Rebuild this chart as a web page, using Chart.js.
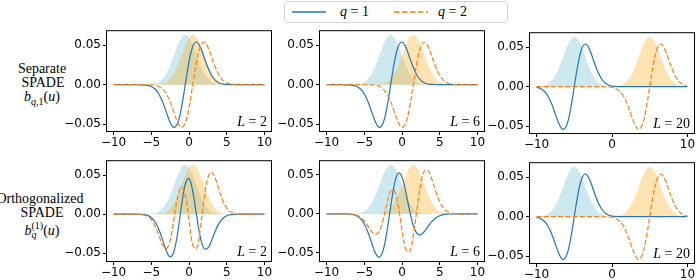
<!DOCTYPE html>
<html>
<head>
<meta charset="utf-8">
<script src="https://cdn.jsdelivr.net/npm/chart.js@4.4.0/dist/chart.umd.min.js"></script>
<style>
  body { margin: 0; width: 696px; height: 280px; position: relative; overflow: hidden; background: #fff; }
  canvas { position: absolute; }
  .m { position: absolute; font-family: "Liberation Serif", serif; font-size: 14px; line-height: 14px; white-space: nowrap; color: #000; }
  .c { transform: translateX(-50%); }
  .ss { display: inline-block; vertical-align: -3px; font-size: 10px; line-height: 9px; }
  .ss span { display: block; }
</style>
</head>
<body>

<div style="position:absolute;left:284px;top:1px;width:222px;height:20px;border:1px solid #d4d4d4;border-radius:3px;background:#fff"></div>
<svg style="position:absolute;left:292px;top:6px" width="34" height="12"><line x1="0" y1="6" x2="34" y2="6" stroke="#1f77b4" stroke-width="1.5"/></svg>
<div class="m" style="left:340px;top:5px"><i>q</i> = 1</div>
<svg style="position:absolute;left:394px;top:6px" width="34" height="12"><line x1="0" y1="6" x2="34" y2="6" stroke="#ff7f0e" stroke-width="1.5" stroke-dasharray="5.5,2.5"/></svg>
<div class="m" style="left:438px;top:5px"><i>q</i> = 2</div>

<div class="m c" style="left:42px;top:62px">Separate</div>
<div class="m c" style="left:43px;top:76px">SPADE</div>
<div class="m c" style="left:42px;top:90px"><i>b</i><sub style="font-size:10px"><i>q</i>,1</sub>(<i>u</i>)</div>

<div class="m c" style="left:40px;top:192px">Orthogonalized</div>
<div class="m c" style="left:42px;top:206px">SPADE</div>
<div class="m c" style="left:42px;top:221px"><i>b</i><span class="ss"><span>(1)</span><span><i>q</i></span></span>(<i>u</i>)</div>

<script>
// sample positions u
const X = [-10,-9.5,-9,-8.5,-8,-7.5,-7,-6.5,-6,-5.5,-5,-4.5,-4,-3.5,-3,-2.5,-2,-1.5,-1,-0.5,0,
           0.5,1,1.5,2,2.5,3,3.5,4,4.5,5,5.5,6,6.5,7,7.5,8,8.5,9,9.5,10];

const xTicksWide = [-10, -5, 0, 5, 10];
const xTicksNarrow = [-10, 0, 10];
const yTicks = [-0.05, 0, 0.05];

// separate SPADE, L = 2
const sepBlue2 = [0,0,0,0,0,0,0,-0.0001,-0.0003,-0.0008,-0.0022,-0.0055,-0.0117,-0.0217,-0.0347,-0.0475,-0.0540,-0.0484,-0.0290,0,
  0.0290,0.0484,0.0540,0.0475,0.0347,0.0217,0.0117,0.0055,0.0022,0.0008,0.0003,0.0001,0,0,0,0,0,0,0,0,0];
const sepOrange2 = [0,0,0,0,0,0,0,0,0,-0.0001,-0.0003,-0.0008,-0.0022,-0.0055,-0.0117,-0.0217,-0.0347,-0.0475,-0.0540,-0.0484,
  -0.0290,0,0.0290,0.0484,0.0540,0.0475,0.0347,0.0217,0.0117,0.0055,0.0022,0.0008,0.0003,0.0001,0,0,0,0,0,0,0];
const psfBlue2 = [0,0,0,0,0,0,0,0,0,0.0002,0.0005,0.0014,0.0034,0.0074,0.0143,0.0243,0.0369,0.0497,0.0594,0.0630,
  0.0594,0.0497,0.0369,0.0243,0.0143,0.0074,0.0034,0.0014,0.0005,0.0002,0,0,0,0,0,0,0,0,0,0,0];
const psfOrange2 = [0,0,0,0,0,0,0,0,0,0,0,0.0002,0.0005,0.0014,0.0034,0.0074,0.0143,0.0243,0.0369,0.0497,
  0.0594,0.0630,0.0594,0.0497,0.0369,0.0243,0.0143,0.0074,0.0034,0.0014,0.0005,0.0002,0,0,0,0,0,0,0,0,0];

// separate SPADE, L = 6
const sepBlue6 = [0,0,0,0,0,-0.0001,-0.0003,-0.0008,-0.0022,-0.0055,-0.0117,-0.0217,-0.0347,-0.0475,-0.0540,-0.0484,-0.0290,0,0.0290,0.0484,
  0.0540,0.0475,0.0347,0.0217,0.0117,0.0055,0.0022,0.0008,0.0003,0.0001,0,0,0,0,0,0,0,0,0,0,0];
const sepOrange6 = [0,0,0,0,0,0,0,0,0,0,0,-0.0001,-0.0003,-0.0008,-0.0022,-0.0055,-0.0117,-0.0217,-0.0347,-0.0475,
  -0.0540,-0.0484,-0.0290,0,0.0290,0.0484,0.0540,0.0475,0.0347,0.0217,0.0117,0.0055,0.0022,0.0008,0.0003,0.0001,0,0,0,0,0];
const psfBlue6 = [0,0,0,0,0,0,0,0.0002,0.0005,0.0014,0.0034,0.0074,0.0143,0.0243,0.0369,0.0497,0.0594,0.0630,0.0594,0.0497,
  0.0369,0.0243,0.0143,0.0074,0.0034,0.0014,0.0005,0.0002,0,0,0,0,0,0,0,0,0,0,0,0,0];
const psfOrange6 = [0,0,0,0,0,0,0,0,0,0,0,0,0,0.0002,0.0005,0.0014,0.0034,0.0074,0.0143,0.0243,
  0.0369,0.0497,0.0594,0.0630,0.0594,0.0497,0.0369,0.0243,0.0143,0.0074,0.0034,0.0014,0.0005,0.0002,0,0,0,0,0,0,0];

// separate SPADE, L = 20 (orthogonalized looks the same)
const sepBlue20 = [-0.0008,-0.0022,-0.0055,-0.0117,-0.0217,-0.0347,-0.0475,-0.0540,-0.0484,-0.0290,0,0.0290,0.0484,0.0540,0.0475,0.0347,0.0217,0.0117,0.0055,0.0022,
  0.0008,0.0003,0.0001,0,0,0,0,0,0,0,0,0,0,0,0,0,0,0,0,0,0];
const sepOrange20 = [0,0,0,0,0,0,0,0,0,0,0,0,0,0,0,0,0,0,-0.0001,-0.0003,
  -0.0008,-0.0022,-0.0055,-0.0117,-0.0217,-0.0347,-0.0475,-0.0540,-0.0484,-0.0290,0,0.0290,0.0484,0.0540,0.0475,0.0347,0.0217,0.0117,0.0055,0.0022,0.0008];
const psfBlue20 = [0.0002,0.0005,0.0014,0.0034,0.0074,0.0143,0.0243,0.0369,0.0497,0.0594,0.0630,0.0594,0.0497,0.0369,0.0243,0.0143,0.0074,0.0034,0.0014,0.0005,
  0.0002,0,0,0,0,0,0,0,0,0,0,0,0,0,0,0,0,0,0,0,0];
const psfOrange20 = [0,0,0,0,0,0,0,0,0,0,0,0,0,0,0,0,0,0,0,0,
  0.0002,0.0005,0.0014,0.0034,0.0074,0.0143,0.0243,0.0369,0.0497,0.0594,0.0630,0.0594,0.0497,0.0369,0.0243,0.0143,0.0074,0.0034,0.0014,0.0005,0.0002];

// orthogonalized SPADE, L = 2
const ortBlue2 = [0,0,0,0,0,0,0,-0.0001,-0.0005,-0.0016,-0.0042,-0.0097,-0.0193,-0.0329,-0.0470,-0.0545,-0.0477,-0.0238,0.0101,0.0382,
  0.0454,0.0288,-0.0013,-0.0293,-0.0439,-0.0433,-0.0334,-0.0212,-0.0114,-0.0053,-0.0021,-0.0007,-0.0002,-0.0001,0,0,0,0,0,0,0];
const ortOrange2 = [0,0,0,0,0,0,-0.0001,-0.0003,-0.0010,-0.0028,-0.0072,-0.0152,-0.0268,-0.0390,-0.0440,-0.0335,-0.0068,0.0220,0.0345,0.0240,
  -0.0075,-0.0395,-0.0440,-0.0180,0.0195,0.0466,0.0539,0.0453,0.0303,0.0168,0.0078,0.0031,0.0011,0.0003,0.0001,0,0,0,0,0,0];

// orthogonalized SPADE, L = 6
const ortBlue6 = [0,0,0,0,0,0,-0.0003,-0.0009,-0.0025,-0.0061,-0.0130,-0.0239,-0.0378,-0.0507,-0.0557,-0.0468,-0.0228,0.0095,0.0383,0.0524,
  0.0475,0.0284,0.0045,-0.0150,-0.0253,-0.0266,-0.0221,-0.0154,-0.0093,-0.0049,-0.0023,-0.0009,-0.0003,-0.0001,0,0,0,0,0,0,0];
const ortOrange6 = [0,0,0,0,0,0,-0.0002,-0.0007,-0.0019,-0.0045,-0.0091,-0.0157,-0.0228,-0.0264,-0.0220,-0.0074,0.0133,0.0296,0.0298,0.0102,
  -0.0206,-0.0452,-0.0484,-0.0272,0.0076,0.0392,0.0557,0.0550,0.0432,0.0282,0.0157,0.0075,0.0031,0.0011,0.0004,0.0001,0,0,0,0,0];

const panels = [
  { left: 106, top: 26,  xt: xTicksWide,   yr: [-0.0598, 0.0689], L: 2,  blue: sepBlue2,  orange: sepOrange2,  pb: psfBlue2,  po: psfOrange2 },
  { left: 319, top: 26,  xt: xTicksWide,   yr: [-0.0598, 0.0689], L: 6,  blue: sepBlue6,  orange: sepOrange6,  pb: psfBlue6,  po: psfOrange6 },
  { left: 529, top: 28,  xt: xTicksNarrow, yr: [-0.0598, 0.0689], L: 20, blue: sepBlue20, orange: sepOrange20, pb: psfBlue20, po: psfOrange20 },
  { left: 106, top: 156, xt: xTicksWide,   yr: [-0.0611, 0.0689], L: 2,  blue: ortBlue2,  orange: ortOrange2,  pb: psfBlue2,  po: psfOrange2 },
  { left: 319, top: 156, xt: xTicksWide,   yr: [-0.0618, 0.0690], L: 6,  blue: ortBlue6,  orange: ortOrange6,  pb: psfBlue6,  po: psfOrange6 },
  { left: 529, top: 158, xt: xTicksNarrow, yr: [-0.0598, 0.0689], L: 20, blue: sepBlue20, orange: sepOrange20, pb: psfBlue20, po: psfOrange20 }
];

const PW = 166, PH = 106, YW = 45, XH = 20, PAD = 5;

const frame = {
  id: 'frame',
  afterDatasetsDraw(chart) {
    const a = chart.chartArea, ctx = chart.ctx;
    ctx.save();
    ctx.strokeStyle = '#000';
    ctx.lineWidth = 1;
    ctx.strokeRect(a.left + 0.5, a.top + 0.5, a.right - a.left - 1, a.bottom - a.top - 1);
    ctx.restore();
  }
};

const minus = s => String(s).replace('-', '\u2212');
const pts = arr => X.map((x, i) => ({ x: x, y: arr[i] }));

panels.forEach(p => {
  const cv = document.createElement('canvas');
  cv.width = PW + YW + PAD;
  cv.height = PH + PAD + XH;
  cv.style.left = (p.left - YW) + 'px';
  cv.style.top = (p.top - PAD) + 'px';
  document.body.appendChild(cv);

  new Chart(cv, {
    type: 'line',
    data: {
      datasets: [
        { data: pts(p.orange), borderColor: '#ff7f0e', borderWidth: 1.2, borderDash: [5, 2.2], pointRadius: 0, tension: 0.4, fill: false },
        { data: pts(p.blue), borderColor: '#1f77b4', borderWidth: 1.2, pointRadius: 0, tension: 0.4, fill: false },
        { data: pts(p.po), borderWidth: 0, borderColor: 'rgba(0,0,0,0)', backgroundColor: 'rgba(255,165,0,0.3)', pointRadius: 0, tension: 0.4, fill: 'origin' },
        { data: pts(p.pb), borderWidth: 0, borderColor: 'rgba(0,0,0,0)', backgroundColor: 'rgba(173,216,230,0.6)', pointRadius: 0, tension: 0.4, fill: 'origin' }
      ]
    },
    options: {
      responsive: false,
      animation: false,
      events: [],
      layout: { padding: { top: PAD, right: PAD, left: 0, bottom: 0 } },
      plugins: { legend: { display: false }, tooltip: { enabled: false } },
      scales: {
        x: {
          type: 'linear', min: -11, max: 11,
          afterBuildTicks: s => { s.ticks = p.xt.map(v => ({ value: v })); },
          afterFit: s => { s.height = XH; },
          grid: { display: true, drawOnChartArea: false, drawTicks: true, tickLength: 3, color: '#000', lineWidth: 1 },
          border: { display: false },
          ticks: { font: { family: 'DejaVu Sans', size: 12 }, color: '#000', padding: 1, maxRotation: 0, autoSkip: false, callback: v => minus(v) }
        },
        y: {
          type: 'linear', min: p.yr[0], max: p.yr[1],
          afterBuildTicks: s => { s.ticks = yTicks.map(v => ({ value: v })); },
          afterFit: s => { s.width = YW; },
          grid: { display: true, drawOnChartArea: false, drawTicks: true, tickLength: 3, color: '#000', lineWidth: 1 },
          border: { display: false },
          ticks: { font: { family: 'DejaVu Sans', size: 12 }, color: '#000', padding: 2, autoSkip: false, callback: v => minus(v.toFixed(2)) }
        }
      }
    },
    plugins: [frame]
  });

  const lab = document.createElement('div');
  lab.className = 'm';
  lab.style.right = (696 - (p.left + PW - 5)) + 'px';
  lab.style.top = (p.top + PH - 17) + 'px';
  lab.innerHTML = '<i>L</i> = ' + p.L;
  document.body.appendChild(lab);
});
</script>
</body>
</html>
